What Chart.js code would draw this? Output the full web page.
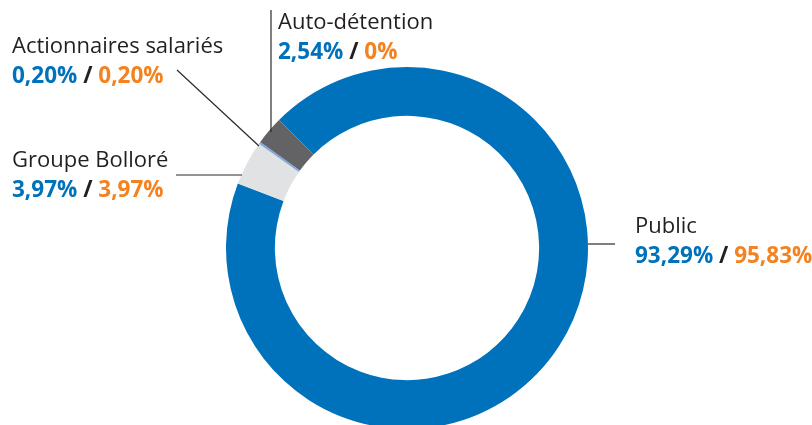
<!DOCTYPE html>
<html>
<head>
<meta charset="utf-8">
<script src="https://cdn.jsdelivr.net/npm/chart.js@4/dist/chart.umd.min.js"></script>
<style>
  html, body { margin: 0; padding: 0; background: #fff; overflow: hidden; }
  #wrap { width: 812px; height: 500px; }
</style>
</head>
<body>
<div id="wrap"><canvas id="c" width="812" height="500"></canvas></div>
<script>
// Data (order clockwise starting at the top-left boundary)
const categories = ['Public', 'Groupe Bolloré', 'Actionnaires salariés', 'Auto-détention'];
const capitalShare = [93.29, 3.97, 0.20, 2.54];   // blue figures (% capital)
const votingShare  = [95.83, 3.97, 0.20, 0];      // orange figures (% voting rights)
const sliceColors = ['#0071BB', '#E1E2E3', '#7EA9DD', '#636366'];

const fmt = v => v.toFixed(v === 0 ? 0 : 2).replace('.', ',') + '%';

// Label placement (layout only)
const labelLayout = {
  'Public':                { x: 635, y: 233, line: [[588, 244], [615, 244]] },
  'Groupe Bolloré':        { x: 12,  y: 167, line: [[176, 175], [242, 175]] },
  'Actionnaires salariés': { x: 12,  y: 53,  line: [[177, 70], [259, 146]] },
  'Auto-détention':        { x: 278, y: 29,  line: [[271, 10], [271, 132]] }
};

const labelPlugin = {
  id: 'labels',
  afterDraw(chart) {
    const ctx = chart.ctx;
    ctx.save();
    categories.forEach((cat, i) => {
      const L = labelLayout[cat];
      ctx.strokeStyle = '#2a2a2a';
      ctx.lineWidth = 1.2;
      ctx.beginPath();
      ctx.moveTo(L.line[0][0], L.line[0][1]);
      ctx.lineTo(L.line[1][0], L.line[1][1]);
      ctx.stroke();

      ctx.textBaseline = 'alphabetic';
      ctx.textAlign = 'left';
      ctx.fillStyle = '#231F20';
      ctx.font = '22px "Open Sans"';
      ctx.fillText(cat, L.x, L.y);

      ctx.font = 'bold 22.5px "Open Sans"';
      let x = L.x;
      const y2 = L.y + 29.5;
      const a = fmt(capitalShare[i]);
      ctx.fillStyle = '#0071BB';
      ctx.fillText(a, x, y2);
      x += ctx.measureText(a).width;
      const s = ' / ';
      ctx.fillStyle = '#231F20';
      ctx.fillText(s, x, y2);
      x += ctx.measureText(s).width;
      ctx.fillStyle = '#F58220';
      ctx.fillText(fmt(votingShare[i]), x, y2);
    });
    ctx.restore();
  }
};

new Chart(document.getElementById('c'), {
  type: 'doughnut',
  data: {
    labels: categories,
    datasets: [{
      data: capitalShare,
      backgroundColor: sliceColors,
      borderWidth: 0,
      hoverOffset: 0
    }]
  },
  options: {
    responsive: false,
    animation: false,
    cutout: '73%',
    rotation: -45,
    layout: { padding: { left: 226, right: 224, top: 67, bottom: 71 } },
    plugins: { legend: { display: false }, tooltip: { enabled: false } }
  },
  plugins: [labelPlugin]
});
</script>
</body>
</html>
